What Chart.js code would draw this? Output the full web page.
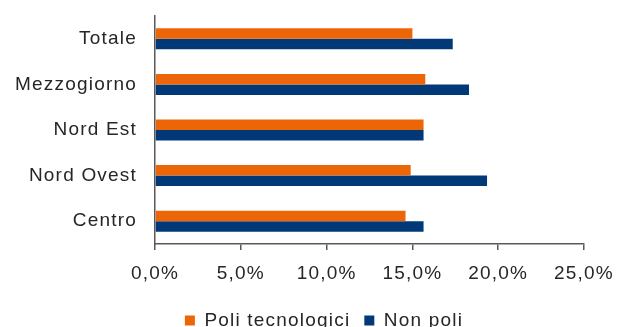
<!DOCTYPE html>
<html>
<head>
<meta charset="utf-8">
<script src="https://cdn.jsdelivr.net/npm/chart.js@4/dist/chart.umd.min.js"></script>
<style>
  html, body { margin: 0; padding: 0; background: #fff; overflow: hidden; }
  #wrap { width: 618px; height: 340px; }
</style>
</head>
<body>
<div id="wrap"><canvas id="chart" width="618" height="340"></canvas></div>
<script>
const categories = ["Totale", "Mezzogiorno", "Nord Est", "Nord Ovest", "Centro"];
const poliTecnologici = [15.0, 15.75, 15.65, 14.9, 14.6];
const nonPoli = [17.35, 18.3, 15.65, 19.35, 15.65];
const seriesNames = ["Poli tecnologici", "Non poli"];

const font = { family: "'Liberation Sans', Arial, sans-serif", size: 19 };
const textColor = "#262626";
const axisColor = "#595959";

// the reference text is a bit wider than Arial, so space the letters out
const spacing = {
  id: "spacing",
  beforeLayout(chart) { chart.ctx.letterSpacing = "1.2px"; },
  beforeDraw(chart) { chart.ctx.letterSpacing = "1.2px"; },
  afterLayout(chart) {
    // legend sits a little right of centre in the original
    chart.legend.left += 32;
    chart.legend.right += 32;
  },
};

new Chart(document.getElementById("chart").getContext("2d"), {
  type: "bar",
  data: {
    labels: categories,
    datasets: [
      { label: seriesNames[0], data: poliTecnologici, backgroundColor: "#EC6608" },
      { label: seriesNames[1], data: nonPoli, backgroundColor: "#003878" },
    ],
  },
  options: {
    indexAxis: "y",
    responsive: false,
    animation: false,
    layout: { padding: { top: 16, right: 34, left: 0, bottom: 0 } },
    datasets: { bar: { categoryPercentage: 0.46, barPercentage: 1.0 } },
    scales: {
      x: {
        min: 0,
        max: 25,
        ticks: {
          stepSize: 5,
          color: textColor,
          font: font,
          padding: 12,
          maxRotation: 0,
          callback: (v) => v.toFixed(1).replace(".", ",") + "%",
        },
        grid: { drawOnChartArea: false, drawTicks: true, tickLength: 6, color: axisColor, lineWidth: 1.5 },
        border: { color: axisColor, width: 1.5 },
        afterFit: (s) => {
          s.height = 53;
          s.paddingLeft = 0;
          s.paddingRight = 0;
        },
      },
      y: {
        ticks: { color: textColor, font: font, padding: 10 },
        grid: { display: false },
        border: { color: axisColor, width: 1.5 },
        afterFit: (s) => {
          s.width = 155;
          s.paddingTop = 0;
          s.paddingBottom = 0;
        },
      },
    },
    plugins: {
      legend: {
        position: "bottom",
        labels: {
          color: textColor,
          font: font,
          boxWidth: 10,
          boxHeight: 10,
          padding: 14,
        },
      },
      tooltip: { enabled: false },
    },
  },
  plugins: [spacing],
});
</script>
</body>
</html>
